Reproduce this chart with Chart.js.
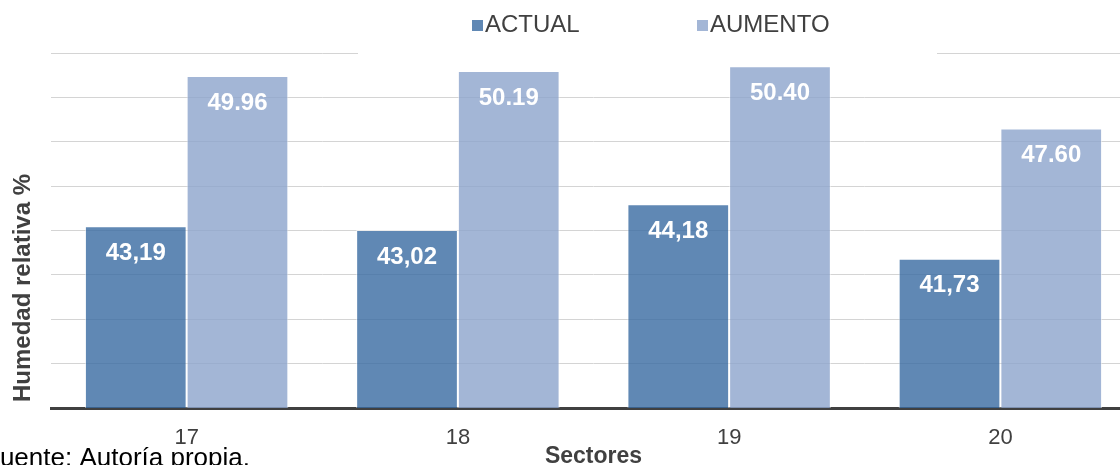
<!DOCTYPE html>
<html>
<head>
<meta charset="utf-8">
<script src="https://cdn.jsdelivr.net/npm/chart.js@4.4.1/dist/chart.umd.min.js"></script>
<style>
html,body{margin:0;padding:0;overflow:hidden;background:#fff;width:1120px;height:465px}
#wrap{position:relative;width:1136px;height:470px}
canvas{display:block}
</style>
</head>
<body>
<div id="wrap"><canvas id="c" width="1136" height="470" style="width:1136px;height:470px"></canvas></div>
<script>
const categories = ['17', '18', '19', '20'];
const actualValues = [43.19, 43.02, 44.18, 41.73];
const aumentoValues = [49.96, 50.19, 50.40, 47.60];
const seriesNames = ['ACTUAL', 'AUMENTO'];
const decimalSeparators = [',', '.'];
const yMin = 35, yMax = 51, yStep = 2;
const xTitle = 'Sectores';
const yTitle = 'Humedad relativa %';
const sourceNote = 'Fuente: Autoría propia.';

const FONT = "'Liberation Sans', Arial, sans-serif";
const TEXT = '#404040';
const fills = ['rgba(56,106,161,0.80)', 'rgba(140,164,204,0.80)'];
const solid = ['#6088b4', '#a3b6d6'];

function fmt(v, sep) { return v.toFixed(2).replace('.', sep); }

const overlay = {
  id: 'overlay',
  beforeDatasetsDraw(chart) {
    const ctx = chart.ctx;
    ctx.save();
    ctx.fillStyle = '#ffffff';
    ctx.fillRect(358, 40, 579, 20);
    ctx.restore();
  },
  afterDatasetsDraw(chart) {
    const ctx = chart.ctx;
    ctx.save();
    ctx.font = 'bold 24px ' + FONT;
    ctx.fillStyle = '#ffffff';
    ctx.textAlign = 'center';
    ctx.textBaseline = 'middle';
    chart.data.datasets.forEach((ds, i) => {
      const meta = chart.getDatasetMeta(i);
      meta.data.forEach((el, j) => {
        ctx.fillText(fmt(ds.data[j], decimalSeparators[i]), el.x, el.y + 27);
      });
    });
    ctx.restore();
  },
  afterDraw(chart) {
    const ctx = chart.ctx;
    ctx.save();
    // legend
    const markerX = [472, 697];
    ctx.font = '24px ' + FONT;
    ctx.textBaseline = 'middle';
    ctx.textAlign = 'left';
    chart.data.datasets.forEach((ds, i) => {
      ctx.fillStyle = solid[i];
      ctx.fillRect(markerX[i], 20, 11, 11);
      ctx.fillStyle = TEXT;
      ctx.fillText(ds.label, markerX[i] + 13, 25);
    });
    // y title
    ctx.save();
    ctx.translate(23, 288);
    ctx.rotate(-Math.PI / 2);
    ctx.font = 'bold 24px ' + FONT;
    ctx.fillStyle = TEXT;
    ctx.textAlign = 'center';
    ctx.textBaseline = 'middle';
    ctx.fillText(yTitle, 0, 0);
    ctx.restore();
    // source note
    ctx.font = '26px ' + FONT;
    ctx.fillStyle = '#000000';
    ctx.textAlign = 'left';
    ctx.textBaseline = 'alphabetic';
    ctx.fillText(sourceNote, -16, 466);
    ctx.restore();
  }
};

new Chart(document.getElementById('c'), {
  type: 'bar',
  data: {
    labels: categories,
    datasets: [
      { label: seriesNames[0], data: actualValues, backgroundColor: fills[0], borderColor: 'rgba(255,255,255,0.55)', borderWidth: 1 },
      { label: seriesNames[1], data: aumentoValues, backgroundColor: fills[1], borderColor: 'rgba(255,255,255,0.55)', borderWidth: 1 }
    ]
  },
  options: {
    responsive: false,
    animation: false,
    devicePixelRatio: 1,
    layout: { padding: { top: 53, left: 0, right: 0, bottom: 0 } },
    datasets: { bar: { barPercentage: 1.0, categoryPercentage: 0.75 } },
    plugins: { legend: { display: false }, tooltip: { enabled: false } },
    scales: {
      x: {
        grid: { display: false, drawTicks: false },
        border: { display: true, color: TEXT, width: 3 },
        ticks: { font: { family: FONT, size: 22 }, color: TEXT, padding: 17 },
        title: { display: true, text: xTitle, font: { family: FONT, size: 23, weight: 'bold' }, color: TEXT, padding: { top: 0, bottom: 0 } },
        afterFit(s) { s.height = 62; }
      },
      y: {
        min: yMin, max: yMax,
        ticks: { display: false, stepSize: yStep },
        grid: { color: '#d4d4d4', lineWidth: 1, drawTicks: false },
        border: { display: false },
        afterFit(s) { s.width = 51; }
      }
    }
  },
  plugins: [overlay]
});
</script>
</body>
</html>
